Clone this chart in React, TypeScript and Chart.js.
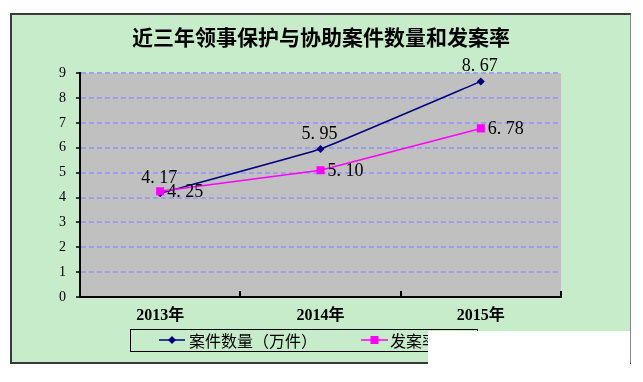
import React, { useEffect, useRef } from "react";
import { Chart, registerables } from "chart.js";

Chart.register(...registerables);

const titleText = "近三年领事保护与协助案件数量和发案率";
const years = ["2013年", "2014年", "2015年"];
const caseCounts = [4.17, 5.95, 8.67];
const incidenceRates = [4.25, 5.1, 6.78];
const seriesNames = ["案件数量（万件）", "发案率"];
const seriesColors = ["#000080", "#ff00ff"];
const yMin = 0;
const yMax = 9;
const yStep = 1;

const fmt = (v: number) => v.toFixed(2).replace(".", ". ");

const plotBg = {
  id: "plotBg",
  beforeDraw(chart: any) {
    const { ctx, chartArea } = chart;
    ctx.save();
    ctx.fillStyle = "#c0c0c0";
    ctx.fillRect(chartArea.left, chartArea.top, chartArea.right - chartArea.left, chartArea.bottom - chartArea.top);
    ctx.restore();
  },
};

const innerTicks = {
  id: "innerTicks",
  afterDraw(chart: any) {
    const { ctx, chartArea } = chart;
    const xs = chart.scales.x;
    const n = chart.data.labels.length;
    ctx.save();
    ctx.strokeStyle = "#000";
    ctx.lineWidth = 2;
    for (let i = 0; i < n; i++) {
      const p =
        i < n - 1
          ? (xs.getPixelForValue(i) + xs.getPixelForValue(i + 1)) / 2
          : chartArea.right;
      const px = Math.round(p);
      ctx.beginPath();
      ctx.moveTo(px, chartArea.bottom);
      ctx.lineTo(px, chartArea.bottom - 6);
      ctx.stroke();
    }
    ctx.restore();
  },
};

const valueLabels = {
  id: "valueLabels",
  afterDatasetsDraw(chart: any) {
    const { ctx } = chart;
    ctx.save();
    ctx.font = "18px 'Liberation Serif'";
    ctx.fillStyle = "#000";
    chart.data.datasets.forEach((ds: any, di: number) => {
      const meta = chart.getDatasetMeta(di);
      meta.data.forEach((pt: any, i: number) => {
        const text = fmt(ds.data[i]);
        if (di === 0) {
          ctx.textAlign = "center";
          ctx.textBaseline = "alphabetic";
          ctx.fillText(text, pt.x - 1, pt.y - 10);
        } else {
          ctx.textAlign = "left";
          ctx.textBaseline = "middle";
          ctx.fillText(text, pt.x + 7, pt.y + 1);
        }
      });
    });
    ctx.restore();
  },
};

const boxLegend = {
  id: "boxLegend",
  afterDraw(chart: any) {
    const { ctx } = chart;
    const bx = 118;
    const by = 314;
    const bw = 347;
    const bh = 22;
    const cy = by + bh / 2;
    ctx.save();
    ctx.strokeStyle = "#000";
    ctx.lineWidth = 1;
    ctx.strokeRect(bx + 0.5, by + 0.5, bw, bh);
    const items = [
      { x0: 147, x1: 173, text: 177 },
      { x0: 349, x1: 376, text: 378 },
    ];
    chart.data.datasets.forEach((ds: any, i: number) => {
      const it = items[i];
      ctx.strokeStyle = ds.borderColor;
      ctx.fillStyle = ds.borderColor;
      ctx.lineWidth = 1.5;
      ctx.beginPath();
      ctx.moveTo(it.x0, cy);
      ctx.lineTo(it.x1, cy);
      ctx.stroke();
      const mx = (it.x0 + it.x1) / 2;
      if (i === 0) {
        ctx.beginPath();
        ctx.moveTo(mx, cy - 4);
        ctx.lineTo(mx + 4, cy);
        ctx.lineTo(mx, cy + 4);
        ctx.lineTo(mx - 4, cy);
        ctx.closePath();
        ctx.fill();
      } else {
        ctx.fillRect(mx - 4, cy - 4, 8, 8);
      }
      ctx.fillStyle = "#000";
      ctx.font = "16px 'Noto Sans CJK SC'";
      ctx.textAlign = "left";
      ctx.textBaseline = "middle";
      ctx.fillText(ds.label, it.text, cy + 1);
    });
    ctx.restore();
  },
};

export default function App() {
  const ref = useRef<HTMLCanvasElement>(null);

  useEffect(() => {
    if (!ref.current) return;
    const chart = new Chart(ref.current, {
      type: "line",
      data: {
        labels: years,
        datasets: [
          {
            label: seriesNames[0],
            data: caseCounts,
            borderColor: seriesColors[0],
            backgroundColor: seriesColors[0],
            borderWidth: 1.5,
            pointStyle: "rectRot",
            pointRadius: 4,
            pointBorderWidth: 0,
            tension: 0.08,
            order: 1,
          },
          {
            label: seriesNames[1],
            data: incidenceRates,
            borderColor: seriesColors[1],
            backgroundColor: seriesColors[1],
            borderWidth: 1.5,
            pointStyle: "rect",
            pointRadius: 5.7,
            pointBorderWidth: 0,
            tension: 0,
            order: 0,
          },
        ],
      },
      options: {
        animation: false,
        responsive: false,
        maintainAspectRatio: false,
        layout: { padding: { left: 0, right: 0, top: 0, bottom: 0 } },
        plugins: {
          legend: { display: false },
          tooltip: { enabled: false },
          title: {
            display: true,
            text: titleText,
            color: "#000",
            font: { family: "'Noto Sans CJK SC'", size: 21, weight: "bold", lineHeight: 1.2 },
            padding: { top: 9, bottom: 24 },
          },
        },
        scales: {
          x: {
            type: "category",
            offset: true,
            grid: { display: false },
            border: { display: true, color: "#000", width: 2 },
            ticks: {
              color: "#000",
              padding: 1,
              font: { family: "'Liberation Serif', 'Noto Sans CJK SC'", size: 16, weight: "bold" },
            },
            afterFit: (s: any) => {
              s.height = 65;
            },
          },
          y: {
            min: yMin,
            max: yMax,
            ticks: {
              stepSize: yStep,
              color: "#000",
              padding: 10,
              font: { family: "'Liberation Serif'", size: 14 },
            },
            grid: {
              color: (c: any) => (c.tick && c.tick.value === 0 ? "rgba(0,0,0,0)" : "#9d9dff"),
              lineWidth: 2,
              tickColor: "#000",
              tickLength: 4,
              tickBorderDash: [],
              tickWidth: 1.5,
            },
            border: { display: true, color: "#000", width: 2, dash: [5, 3] },
            afterFit: (s: any) => {
              s.width = 68;
            },
          },
          yRight: {
            type: "linear",
            position: "right",
            min: yMin,
            max: yMax,
            display: true,
            grid: { display: false, drawOnChartArea: false },
            border: { display: false },
            ticks: { display: false },
            afterFit: (s: any) => {
              s.width = 69;
            },
          },
        },
      },
      plugins: [plotBg, innerTicks, valueLabels, boxLegend],
    });
    return () => chart.destroy();
  }, []);

  return (
    <div>
      <div
        style={{
          position: "absolute",
          left: 10,
          top: 13,
          width: 618,
          height: 347,
          borderLeft: "2px solid #3a3a3a",
          borderTop: "2px solid #3a3a3a",
          borderBottom: "2px solid #3a3a3a",
          borderRight: "1px solid #8a8a8a",
          background: "#c6ecca",
        }}
      >
        <canvas ref={ref} width={618} height={347} style={{ display: "block", width: 618, height: 347 }} />
      </div>
      <div
        style={{
          position: "absolute",
          left: 428,
          top: 331,
          width: 202,
          height: 34,
          background: "#ffffff",
        }}
      />
    </div>
  );
}
